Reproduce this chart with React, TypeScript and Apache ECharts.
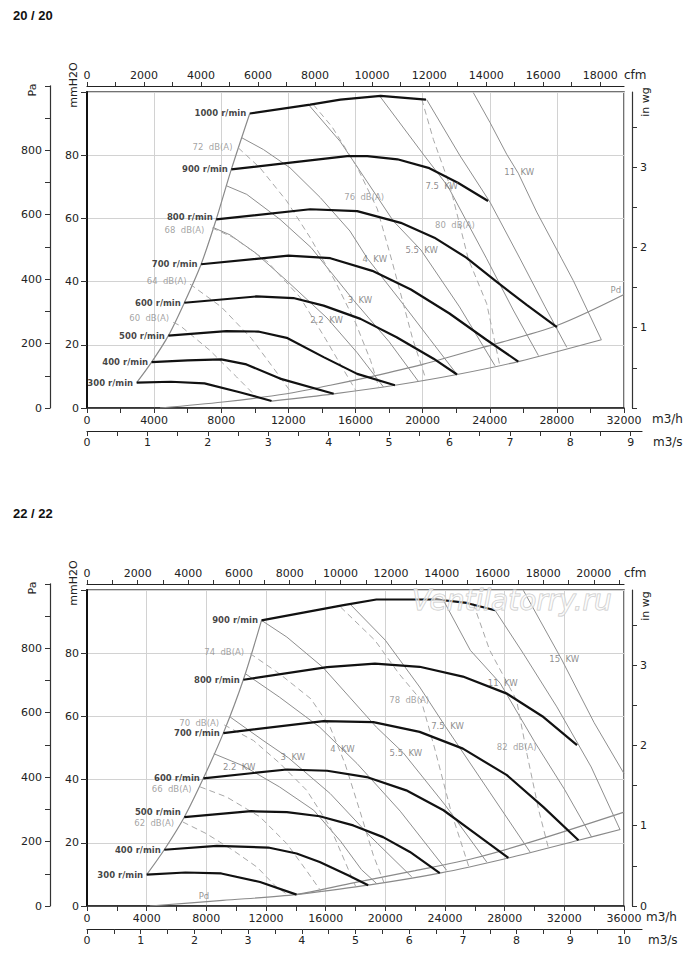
import React, { useEffect, useRef } from "react";
import * as echarts from "echarts";

// ================= 20 / 20 =================
const title20 = "20 / 20";
const qMax20 = 32000;
const cfmTickMax20 = 18000;
const m3sTickMax20 = 9;
const showInwgZero20 = false;
const rpm20 = [300, 400, 500, 600, 700, 800, 900, 1000];
const speed20 = [
  [[2960, 8.0], [5000, 8.3], [7000, 7.8], [9100, 5.0], [11000, 2.2]],
  [[3850, 14.5], [6000, 15.1], [8000, 15.4], [9500, 13.8], [11500, 9.3], [14700, 4.5]],
  [[4850, 22.9], [8300, 24.3], [10200, 24.2], [11900, 22.2], [14100, 16.1], [16100, 10.8], [18350, 7.2]],
  [[5800, 33.3], [10100, 35.3], [12300, 34.8], [14100, 32.4], [16300, 28.2], [18450, 22.4], [20650, 15.6], [22050, 10.6]],
  [[6800, 45.5], [12000, 48.2], [14500, 47.4], [17000, 43.4], [19300, 37.5], [21600, 29.9], [23800, 21.6], [25700, 14.7]],
  [[7700, 59.7], [13300, 62.9], [16100, 62.3], [18700, 58.6], [20700, 53.9], [22600, 47.6], [24400, 40.0], [26200, 32.6], [28000, 25.6]],
  [[8600, 75.5], [12000, 77.6], [15500, 79.7], [16700, 79.7], [18500, 78.7], [20400, 75.9], [22100, 71.3], [23900, 65.5]],
  [[9700, 93.2], [13300, 96.0], [15100, 97.6], [17500, 98.8], [20200, 97.6]],
];
const speedLabelLift20 = [0, 0, 0, 0, 0, 2, 0, 0];
const pd20 = [[4350, 0], [8100, 1.9], [11900, 4.5], [14500, 7.2], [17000, 10.0], [20000, 13.8], [23400, 18.9], [28000, 26.1], [32000, 35.9]];
const limit20 = [[11000, 2.2], [14700, 4.5], [18350, 7.2], [22050, 10.6], [25700, 14.7], [30650, 21.6]];
const kwNames20 = ["2.2  KW", "3  KW", "4  KW", "5.5  KW", "7.5  KW", "", "11  KW"];
const kw20 = [
  [[7530, 57.1], [8520, 54.8], [10010, 49.2], [11900, 40.3], [14300, 28.5], [16100, 17.5], [17660, 6.7]],
  [[8320, 70.3], [9520, 67.6], [11500, 59.7], [13350, 50.8], [15900, 34.0], [18000, 21.0], [19750, 8.4]],
  [[9230, 85.5], [10510, 81.8], [12100, 76.0], [13900, 66.6], [15670, 56.0], [16700, 47.4], [18600, 34.5], [20400, 22.0], [22050, 10.6]],
  [[13200, 96.0], [15080, 84.4], [16670, 71.8], [18250, 59.2], [19900, 50.0], [22200, 32.0], [24310, 13.4]],
  [[17460, 98.6], [20040, 80.3], [21500, 70.2], [23820, 47.2], [25400, 31.0], [26900, 16.6]],
  [[20240, 97.6], [22230, 79.8], [24020, 65.1], [25810, 47.2], [27300, 32.0], [28590, 19.2]],
  [[23020, 99.8], [24020, 90.3], [25010, 80.3], [25700, 74.3], [26800, 62.0], [28290, 47.2], [28980, 40.3], [30650, 21.6]],
];
const kwLabelAt20 = [[14272, 27.8], [16268, 34.2], [17150, 47.3], [19945, 50.0], [21137, 70.2], null, [25755, 74.6]];
const dbNames20 = ["60  dB(A)", "64  dB(A)", "68  dB(A)", "72  dB(A)", "76  dB(A)", "80  dB(A)"];
const db20 = [
  [[5140, 27.1], [5540, 26.1], [7330, 18.2], [8920, 9.8], [10100, 3.5]],
  [[6140, 39.2], [8000, 32.0], [9800, 22.0], [11200, 12.0], [12200, 4.7]],
  [[7450, 57.0], [8700, 54.0], [10700, 46.6], [12700, 35.0], [14200, 22.0], [15300, 12.0], [16000, 5.7]],
  [[9020, 82.3], [10310, 76.0], [11900, 65.5], [13290, 54.0], [14800, 40.0], [16000, 27.0], [16900, 15.0], [17400, 6.4]],
  [[13490, 96.0], [14600, 89.0], [16070, 76.5], [17300, 63.0], [18200, 46.0], [18800, 34.0], [19400, 22.0], [20200, 9.0]],
  [[19950, 97.7], [20640, 85.0], [21630, 70.3], [22720, 47.2], [23820, 33.0], [24600, 13.4]],
];
const dbLabelAt20 = [[3706, 28.4], [4750, 40.2], [5810, 56.4], [7479, 82.7], [16518, 66.9], [21929, 58.0]];
const pdLabelAt20 = [31512, 37.3];

// ================= 22 / 22 =================
const title22 = "22 / 22";
const qMax22 = 36000;
const cfmTickMax22 = 21000;
const m3sTickMax22 = 10;
const showInwgZero22 = true;
const rpm22 = [300, 400, 500, 600, 700, 800, 900];
const speed22 = [
  [[4000, 9.9], [6600, 10.6], [9000, 10.3], [11600, 7.6], [14050, 3.6]],
  [[5180, 17.8], [8700, 19.0], [12150, 18.5], [14050, 16.6], [15600, 13.9], [17500, 9.7], [18850, 6.6]],
  [[6520, 28.1], [11000, 30.0], [13400, 29.7], [15600, 28.4], [17850, 25.5], [19850, 21.8], [21650, 17.1], [23650, 10.4]],
  [[7800, 40.4], [13400, 43.2], [16100, 42.8], [18750, 40.8], [21400, 36.6], [23900, 30.3], [25900, 23.4], [28250, 15.2]],
  [[9140, 54.7], [15850, 58.5], [19200, 58.2], [22300, 55.1], [25200, 49.8], [28150, 41.4], [30600, 31.3], [32950, 20.8]],
  [[10480, 71.6], [16100, 75.6], [19300, 76.7], [22300, 75.7], [25200, 72.6], [28150, 67.2], [30600, 59.8], [32850, 50.9]],
  [[11700, 90.4], [17200, 95.2], [19400, 97.0], [23450, 97.0], [25450, 95.9], [27350, 93.6]],
];
const speedLabelLift22 = [0, 0, 5, 0, 0, 0, 0];
const pd22 = [[4200, 0], [9100, 1.8], [14050, 3.7], [17600, 7.1], [22000, 11.2], [26000, 15.2], [30000, 20.6], [36000, 29.7]];
const limit22 = [[14050, 3.6], [18850, 6.6], [23650, 10.4], [28250, 15.2], [32950, 20.8], [35750, 24.2]];
const kwNames22 = ["2.2  KW", "3  KW", "4  KW", "5.5  KW", "7.5  KW", "11  KW", "", "15  KW"];
const kw22 = [
  [[8500, 48.2], [10500, 44.3], [12900, 37.7], [15200, 30.3], [17000, 20.5], [18400, 11.5], [19420, 7.1]],
  [[9600, 59.8], [11800, 52.4], [13500, 46.9], [16300, 35.6], [19000, 22.0], [21770, 9.2]],
  [[10620, 73.5], [12900, 66.1], [15600, 56.6], [18100, 45.1], [21000, 30.0], [24110, 11.3]],
  [[11700, 90.4], [13400, 85.1], [15800, 75.6], [17600, 66.1], [19400, 56.6], [21200, 48.5], [24000, 32.0], [26800, 13.9]],
  [[17600, 95.7], [20000, 84.1], [22300, 69.3], [24000, 57.0], [27000, 36.0], [29700, 17.1]],
  [[23900, 96.7], [25700, 80.9], [27700, 70.5], [30000, 52.0], [32000, 37.0], [33830, 21.8]],
  [[27350, 93.6], [29250, 79.9], [31500, 63.0], [33800, 44.0], [35730, 24.2]],
  [[29250, 99.9], [31800, 78.2], [34000, 58.0], [36000, 41.9]],
];
const kwLabelAt22 = [[10203, 44.1], [13798, 47.2], [17129, 49.6], [21374, 48.5], [24168, 57.0], [27876, 70.5], null, [31991, 78.2]];
const dbNames22 = ["62  dB(A)", "66  dB(A)", "70  dB(A)", "74  dB(A)", "78  dB(A)", "82  dB(A)"];
const db22 = [
  [[6420, 26.6], [8000, 22.9], [9800, 17.6], [11400, 12.3], [12700, 6.0], [13500, 3.4]],
  [[7580, 37.7], [9360, 34.5], [11600, 28.2], [13400, 19.7], [14700, 11.3], [15700, 4.6]],
  [[9200, 57.3], [11150, 52.4], [12940, 45.1], [14730, 36.6], [16300, 25.0], [17300, 14.0], [18000, 6.3]],
  [[10930, 79.9], [12900, 73.5], [15000, 65.6], [16300, 56.6], [17300, 45.0], [18300, 30.0], [19200, 16.0], [19900, 7.5]],
  [[17000, 94.6], [19300, 84.1], [20900, 73.6], [22400, 65.1], [23300, 50.0], [24400, 30.0], [25600, 12.4]],
  [[25900, 95.7], [27000, 80.9], [28800, 65.1], [29500, 48.0], [30300, 30.0], [30930, 18.4]],
];
const dbLabelAt22 = [[4505, 26.4], [5678, 37.0], [7522, 58.0], [9198, 80.5], [21600, 65.2], [28807, 50.4]];
const pdLabelAt22 = [7844, 3.2];

// unit conversions
const CFM_PER_M3H = 0.588578;
const MMH2O_PER_INWG = 25.4;
const PA_PER_MMH2O = 9.80665;
const Y_MAX = 100; // mmH2O
const PA_MAX = 1000;
const INWG_TICK_MAX = 3.5;

const FONT = "DejaVu Sans";

type Panel = {
  title: string; qMax: number; cfmTickMax: number; m3sTickMax: number; showInwgZero: boolean;
  rpm: number[]; speed: number[][][]; lift: number[]; pd: number[][]; limit: number[][];
  kwNames: string[]; kw: number[][][]; kwLabelAt: (number[] | null)[];
  dbNames: string[]; db: number[][][]; dbLabelAt: number[][]; pdLabelAt: number[];
};

const panels: Panel[] = [
  { title: title20, qMax: qMax20, cfmTickMax: cfmTickMax20, m3sTickMax: m3sTickMax20, showInwgZero: showInwgZero20,
    rpm: rpm20, speed: speed20, lift: speedLabelLift20, pd: pd20, limit: limit20, kwNames: kwNames20, kw: kw20, kwLabelAt: kwLabelAt20,
    dbNames: dbNames20, db: db20, dbLabelAt: dbLabelAt20, pdLabelAt: pdLabelAt20 },
  { title: title22, qMax: qMax22, cfmTickMax: cfmTickMax22, m3sTickMax: m3sTickMax22, showInwgZero: showInwgZero22,
    rpm: rpm22, speed: speed22, lift: speedLabelLift22, pd: pd22, limit: limit22, kwNames: kwNames22, kw: kw22, kwLabelAt: kwLabelAt22,
    dbNames: dbNames22, db: db22, dbLabelAt: dbLabelAt22, pdLabelAt: pdLabelAt22 },
];

const PANEL_TOPS = [92, 590];
const PL = 87, PW = 537, PH = 316;

const axisLabelStyle = { color: "#222", fontSize: 11, fontFamily: FONT };
const tickLine = { color: "#333", width: 1 };
const plain = (v: number) => String(v);

function buildOption() {
  const grid: any[] = [];
  const xAxis: any[] = [];
  const yAxis: any[] = [];
  const series: any[] = [];
  const graphic: any[] = [];

  panels.forEach((p, c) => {
    const top = PANEL_TOPS[c];
    const g0 = grid.length;
    const cfmFull = p.qMax * CFM_PER_M3H;
    const m3sFull = p.qMax / 3600;
    const paH = (PH * PA_MAX) / (Y_MAX * PA_PER_MMH2O);
    const inwgH = (PH * INWG_TICK_MAX) / (Y_MAX / MMH2O_PER_INWG);
    const m3sLineW = 555;

    grid.push({ left: PL, top, width: PW, height: PH, show: true, borderColor: "#444", borderWidth: 1.5, backgroundColor: "transparent" });
    grid.push({ left: PL, top: top + PH - paH, width: PW, height: paH });
    grid.push({ left: PL, top, width: (PW * p.cfmTickMax) / cfmFull, height: PH });
    grid.push({ left: PL, top, width: m3sLineW, height: PH });
    grid.push({ left: PL, top, width: (PW * p.m3sTickMax) / m3sFull, height: PH });
    grid.push({ left: PL, top: top + PH - inwgH, width: PW, height: inwgH });

    const x0 = xAxis.length;
    // main m3/h
    xAxis.push({
      gridIndex: g0, type: "value", min: 0, max: p.qMax, interval: 4000, position: "bottom",
      axisLine: { show: true, onZero: false, lineStyle: { color: "#222", width: 1.5 } },
      axisTick: { show: true, length: 5, lineStyle: tickLine },
      minorTick: { show: true, splitNumber: 2, length: 5, lineStyle: tickLine },
      axisLabel: { ...axisLabelStyle, margin: 7, formatter: plain },
      splitLine: { show: true, lineStyle: { color: "#d2d2d2", width: 1 } },
    });
    // cfm line
    xAxis.push({
      gridIndex: g0, type: "value", min: 0, max: cfmFull, position: "top", offset: 6,
      axisLine: { show: true, onZero: false, lineStyle: { color: "#222", width: 1.2 } },
      axisTick: { show: false }, axisLabel: { show: false }, splitLine: { show: false },
    });
    // cfm ticks
    xAxis.push({
      gridIndex: g0 + 2, type: "value", min: 0, max: p.cfmTickMax, interval: 1000, position: "top", offset: 6,
      axisLine: { show: false, onZero: false },
      axisTick: { show: true, length: 4, lineStyle: tickLine },
      axisLabel: { ...axisLabelStyle, margin: 5, formatter: (v: number) => (v % 2000 === 0 ? String(v) : "") },
      splitLine: { show: false },
    });
    xAxis.push({ gridIndex: g0 + 1, type: "value", min: 0, max: 1, show: false });
    // m3/s line
    xAxis.push({
      gridIndex: g0 + 3, type: "value", min: 0, max: (m3sFull * m3sLineW) / PW, position: "bottom", offset: 23,
      axisLine: { show: true, onZero: false, lineStyle: { color: "#222", width: 1.2 } },
      axisTick: { show: false }, axisLabel: { show: false }, splitLine: { show: false },
    });
    // m3/s ticks
    xAxis.push({
      gridIndex: g0 + 4, type: "value", min: 0, max: p.m3sTickMax, interval: 1, position: "bottom", offset: 23,
      axisLine: { show: false, onZero: false },
      axisTick: { show: true, length: 5, lineStyle: tickLine },
      minorTick: { show: true, splitNumber: 2, length: 5, lineStyle: tickLine },
      axisLabel: { ...axisLabelStyle, margin: 6, formatter: plain },
      splitLine: { show: false },
    });
    xAxis.push({ gridIndex: g0 + 5, type: "value", min: 0, max: 1, show: false });

    const y0 = yAxis.length;
    yAxis.push({
      gridIndex: g0, type: "value", min: 0, max: Y_MAX, interval: 20, position: "left",
      axisLine: { show: true, onZero: false, lineStyle: { color: "#111", width: 2 } },
      axisTick: { show: true, length: 6, lineStyle: tickLine },
      axisLabel: { ...axisLabelStyle, margin: 8, formatter: (v: number) => (v >= Y_MAX ? "" : String(v)) },
      splitLine: { show: true, lineStyle: { color: "#d2d2d2", width: 1 } },
    });
    yAxis.push({
      gridIndex: g0, type: "value", min: 0, max: Y_MAX, position: "right", offset: 8,
      axisLine: { show: true, onZero: false, lineStyle: { color: "#333", width: 1.2 } },
      axisTick: { show: false }, axisLabel: { show: false }, splitLine: { show: false },
    });
    yAxis.push({
      gridIndex: g0 + 1, type: "value", min: 0, max: PA_MAX, interval: 100, position: "left", offset: 37,
      axisLine: { show: true, onZero: false, lineStyle: { color: "#333", width: 1.2 } },
      axisTick: { show: true, length: 5, lineStyle: tickLine },
      axisLabel: { ...axisLabelStyle, margin: 8, formatter: (v: number) => (v % 200 === 0 && v < PA_MAX ? String(v) : "") },
      splitLine: { show: false },
    });
    yAxis.push({ gridIndex: g0 + 2, type: "value", min: 0, max: 1, show: false });
    yAxis.push({ gridIndex: g0 + 3, type: "value", min: 0, max: 1, show: false });
    yAxis.push({ gridIndex: g0 + 4, type: "value", min: 0, max: 1, show: false });
    yAxis.push({
      gridIndex: g0 + 5, type: "value", min: 0, max: INWG_TICK_MAX, interval: 0.5, position: "right", offset: 8,
      axisLine: { show: false, onZero: false },
      axisTick: { show: true, length: 5, lineStyle: tickLine },
      axisLabel: {
        ...axisLabelStyle, margin: 8,
        formatter: (v: number) => (Math.abs(v - Math.round(v)) < 1e-6 && (p.showInwgZero || v > 0) ? String(Math.round(v)) : ""),
      },
      splitLine: { show: false },
    });

    const ln = (data: number[][], style: any, smooth: any, z: number) => ({
      type: "line", xAxisIndex: x0, yAxisIndex: y0, data, showSymbol: false, symbol: "none",
      smooth, lineStyle: style, z, silent: true, clip: true, animation: false,
    });
    const grayStyle = { color: "#8e8e8e", width: 1 };
    const edgeStyle = { color: "#8a8a8a", width: 1.2 };
    const dashStyle = { color: "#a8a8a8", width: 1, type: [6, 4] };
    const speedStyle = { color: "#111", width: 2.2 };

    // boundary curves
    series.push(ln(p.speed.map((s) => s[0]), edgeStyle, 0.3, 2));
    series.push(ln(p.pd, edgeStyle, 0.3, 2));
    series.push(ln(p.limit, edgeStyle, 0.3, 2));
    p.kw.forEach((d) => series.push(ln(d, grayStyle, false, 2)));
    p.db.forEach((d) => series.push(ln(d, dashStyle, false, 2)));
    p.speed.forEach((d) => series.push(ln(d, speedStyle, false, 3)));

    const lbl = (data: any[], color: string, extra: any) => ({
      type: "scatter", xAxisIndex: x0, yAxisIndex: y0, symbolSize: 1, silent: true,
      itemStyle: { color: "rgba(0,0,0,0)" }, data, z: 5,
      label: { show: true, formatter: "{b}", color, fontSize: 8.5, fontFamily: FONT, ...extra },
    });
    series.push(lbl(
      p.speed.map((s, i) => ({ name: p.rpm[i] + " r/min", value: s[0], label: { offset: [0, -p.lift[i]] } })),
      "#111", { position: "left", distance: 3, fontWeight: "bold" }));
    series.push(lbl(p.kwLabelAt.map((pt, i) => (pt ? { name: p.kwNames[i], value: pt } : null)).filter(Boolean), "#707070", { position: "inside" }));
    series.push(lbl(p.dbLabelAt.map((pt, i) => ({ name: p.dbNames[i], value: pt })), "#8c8c8c", { position: "inside" }));
    series.push(lbl([{ name: "Pd", value: p.pdLabelAt }], "#777", { position: "inside" }));

    // texts: title and axis names
    const textStyle = (text: string, size: number, extra: any = {}) => ({
      text, fontSize: size, fontFamily: FONT, fill: "#222", align: "left", verticalAlign: "middle", ...extra,
    });
    const base = top - 92;
    graphic.push({ type: "text", x: 13, y: 15 + base, style: textStyle(p.title, 13, { fontFamily: "Liberation Sans", fontWeight: "bold", fill: "#111" }) });
    graphic.push({ type: "text", x: 32, y: 90 + base, rotation: Math.PI / 2, style: textStyle("Pa", 11, { align: "center" }) });
    graphic.push({ type: "text", x: 73, y: 85 + base, rotation: Math.PI / 2, style: textStyle("mmH2O", 11, { align: "center" }) });
    graphic.push({ type: "text", x: 645, y: 102 + base + (c === 1 ? 6 : 0), rotation: Math.PI / 2, style: textStyle("in wg", 11, { align: "center" }) });
    graphic.push({ type: "text", x: 624, y: 75 + base, style: textStyle("cfm", 12) });
    graphic.push({ type: "text", x: c === 0 ? 652 : 646, y: 419 + base, style: textStyle("m3/h", 12) });
    graphic.push({ type: "text", x: c === 0 ? 653 : 648, y: 442 + base, style: textStyle("m3/s", 12) });
  });

  // watermark, kept just below the cfm tick labels
  graphic.push({
    type: "text", x: 412, y: 600, z: 50,
    style: {
      text: "Ventilatorry.ru", fontSize: 28, fontStyle: "italic", fontFamily: FONT,
      fill: "rgba(255,255,255,0.5)", stroke: "#c8c8c8", lineWidth: 1, align: "left", verticalAlign: "middle",
    },
  });

  return { animation: false, backgroundColor: "#fff", grid, xAxis, yAxis, series, graphic };
}

export default function App() {
  const ref = useRef<HTMLDivElement>(null);
  useEffect(() => {
    if (!ref.current) return;
    const chart = echarts.init(ref.current, undefined, { renderer: "svg" });
    chart.setOption(buildOption() as any);
    return () => chart.dispose();
  }, []);
  return <div ref={ref} style={{ position: "absolute", left: 0, top: 0, width: 700, height: 971 }} />;
}
